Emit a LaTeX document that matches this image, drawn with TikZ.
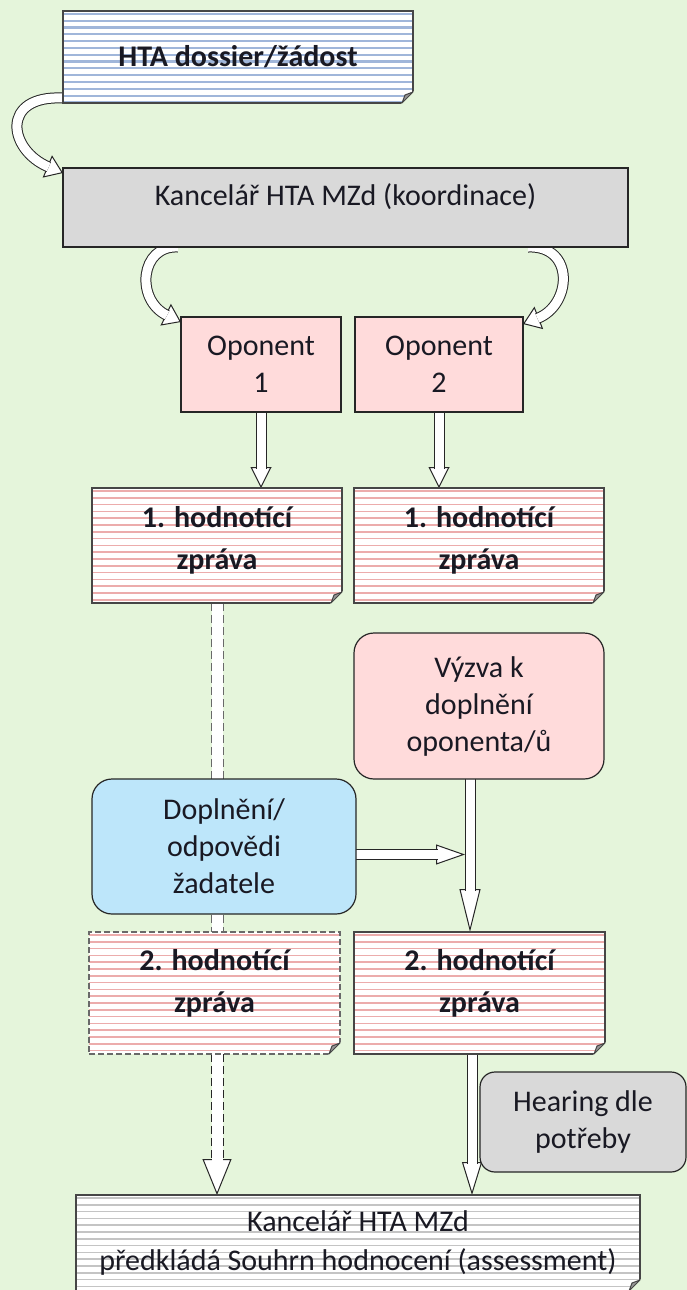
\documentclass[tikz,border=0pt]{standalone}
\usepackage{fontspec}
\setmainfont{Carlito}
\usetikzlibrary{arrows.meta,positioning,calc}

\definecolor{bggreen}{RGB}{229,245,219}
\definecolor{edge}{RGB}{38,38,38}
\definecolor{docedge}{RGB}{70,70,70}
\definecolor{dashgray}{RGB}{105,105,105}
\definecolor{ink}{RGB}{25,25,35}
\definecolor{pinkfill}{RGB}{255,219,219}
\definecolor{bluefill}{RGB}{189,230,250}
\definecolor{grayfill}{RGB}{217,217,217}
\definecolor{foldgray}{RGB}{150,150,150}
\definecolor{stripeblue}{RGB}{160,182,218}
\definecolor{stripered}{RGB}{236,172,172}
\definecolor{stripegray}{RGB}{196,196,196}

\pgfdeclarelayer{back}
\pgfdeclarelayer{conn}
\pgfsetlayers{back,conn,main}

% text sitting a bit above the middle of its box
\newcommand{\liftup}[2]{\raisebox{#1}[\height][\depth]{\begin{tabular}{@{}c@{}}#2\end{tabular}}}

\begin{document}
\begin{tikzpicture}[x=1pt, y=-1pt,
    node distance=0pt and 14pt,
    base/.style={draw=edge, line width=1.2pt, outer sep=0pt, inner sep=2pt, align=center, text=ink, font=\fontsize{30}{37}\selectfont},
    docbox/.style={base, fill=white, draw=docedge, font=\fontsize{30}{42}\selectfont\bfseries,
      path picture={\foreach \k in {0,...,19}
        \draw[#1] ([yshift=-3pt-\k*6.8pt]path picture bounding box.north west) -- ([yshift=-3pt-\k*6.8pt]path picture bounding box.north east);}},
    flatbox/.style={base, fill=#1},
    softbox/.style={base, fill=#1, rounded corners=20pt},
    bluerule/.style={solid, draw=stripeblue, line width=2.2pt},
    redrule/.style={solid, draw=stripered, line width=1.6pt},
    grayrule/.style={solid, draw=stripegray, line width=1.6pt},
    blk/.style n args={3}{draw=white, line width=.1pt,
      -{Triangle[color=edge, fill=white, line width=1pt, length=#1, width=#2]},
      postaction={draw=edge, -, line width=#3+2pt, shorten >=#1-1.5pt,
        postaction={draw=white, solid, line width=#3}}},
    dashblk/.style n args={3}{blk={#1}{#2}{#3}, dashed, dash pattern=on 8pt off 4pt},
    dashshaft/.style={draw=dashgray, line width=13pt, dashed, dash pattern=on 8pt off 4pt,
      postaction={draw=white, solid, line width=11pt}}
]
\useasboundingbox (0,0) rectangle (687,1290);
\begin{pgfonlayer}{back}
\fill[bggreen] (0,0) rectangle (687,1290);
\end{pgfonlayer}

% boxes
\node[docbox=bluerule, minimum width=350pt, minimum height=92pt] (doss) at (238,57) {HTA dossier/žádost};
\node[flatbox=grayfill, minimum width=565pt, minimum height=79pt] (koord) at (345.5,207.5) {\liftup{9.5pt}{Kancelář HTA MZd (koordinace)}};
\node[flatbox=pinkfill, minimum width=160pt, minimum height=95pt] (op1) at (261,364.5) {Oponent\\1};
\node[flatbox=pinkfill, minimum width=168pt, minimum height=95pt, right=of op1] (op2) {Oponent\\2};
\node[docbox=redrule, minimum width=250pt, minimum height=115pt] (rep1a) at (217,545.5) {\liftup{5.5pt}{1. hodnotící\\zpráva}};
\node[docbox=redrule, minimum width=250pt, minimum height=115pt, right=12pt of rep1a] (rep1b) {\liftup{5.5pt}{1. hodnotící\\zpráva}};
\node[softbox=pinkfill, minimum width=250pt, minimum height=146pt] (vyzva) at (479,706) {Výzva k\\doplnění\\oponenta/ů};
\node[softbox=bluefill, minimum width=264pt, minimum height=135pt] (dopl) at (224,846.5) {Doplnění/\\odpovědi\\žadatele};
\node[docbox=redrule, draw=dashgray, dashed, dash pattern=on 6pt off 3pt, minimum width=251pt, minimum height=122pt] (rep2a) at (214.5,993) {\liftup{10pt}{2. hodnotící\\zpráva}};
\node[docbox=redrule, minimum width=251pt, minimum height=122pt, right=of rep2a] (rep2b) {\liftup{10pt}{2. hodnotící\\zpráva}};
\node[softbox=grayfill, rounded corners=15pt, minimum width=206pt, minimum height=100pt] (hear) at (583,1122) {Hearing dle\\potřeby};
\node[docbox=grayrule, font=\fontsize{30}{39}\selectfont, minimum width=564pt, minimum height=96pt] (summ) at (358,1243) {Kancelář HTA MZd\\předkládá Souhrn hodnocení (assessment)};

% folded corners of the documents
\foreach \n in {doss,rep1a,rep1b,rep2a,rep2b,summ}{
  \fill[bggreen] ([shift={(-12pt,-1pt)}]\n.south east) -- ([shift={(1pt,-1pt)}]\n.south east) -- ([shift={(1pt,12pt)}]\n.south east) -- cycle;
  \filldraw[fill=foldgray, draw=docedge, line width=1pt, line join=round] ([xshift=-11pt]\n.south east) -- ([yshift=11pt]\n.south east) -- ([shift={(-8pt,8pt)}]\n.south east) -- cycle;
}

% connectors
\begin{pgfonlayer}{conn}
\draw[blk={17pt}{24pt}{9pt}] ([yshift=5pt]doss.south west) .. controls (0,95) and (8,150) .. ([yshift=-5pt]koord.north west);
\draw[blk={17pt}{24pt}{9pt}] ($(op1.north west |- koord.south)+(-3,0)$) .. controls (140,245) and (135,300) .. ([yshift=-5pt]op1.north west);
\draw[blk={17pt}{24pt}{9pt}] ($(op2.north east |- koord.south)+(5,0)$) .. controls (575,245) and (572,305) .. ([yshift=-7pt]op2.north east);

\draw[blk={21pt}{21pt}{9pt}] (op1.south) -- (op1.south |- rep1a.north);
\draw[blk={21pt}{21pt}{9pt}] (op2.south) -- (op2.south |- rep1b.north);

\coordinate (vx) at ($(vyzva.south)+(-9,0)$);
\draw[blk={43pt}{21pt}{9pt}] (vx) -- (vx |- rep2b.north);
\coordinate (join) at ($(vx |- dopl.east)+(-5,8)$);
\draw[blk={29pt}{20pt}{9pt}] (dopl.east |- join) -- (join);

\draw[dashshaft] (rep1a.south) -- (rep1a.south |- rep2a.north);
\draw[dashblk={36pt}{29pt}{11pt}] (rep1a.south |- rep2a.south) -- (rep1a.south |- summ.north);
\coordinate (sx) at ($(rep2b.south)+(-7.5,0)$);
\draw[blk={33pt}{20pt}{9pt}] (sx) -- (sx |- summ.north);
\end{pgfonlayer}
\end{tikzpicture}
\end{document}
